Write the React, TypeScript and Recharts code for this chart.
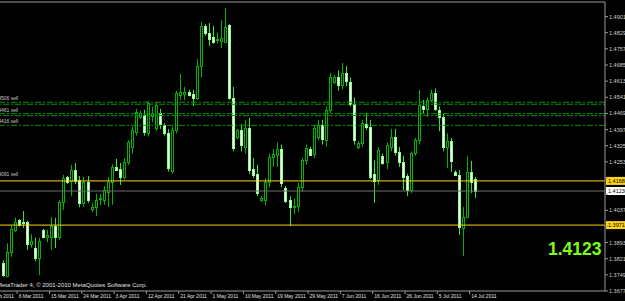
import React from "react";
import { Bar, ComposedChart, ReferenceLine, XAxis, YAxis } from "recharts";

// EURUSD daily, 1 Mar - 15 Jul 2011 (MT4 feed with Sunday bars)
const dates = [
  "1 Mar", "2 Mar", "3 Mar", "4 Mar", "6 Mar", "7 Mar", "8 Mar", "9 Mar", "10 Mar", "11 Mar",
  "13 Mar", "14 Mar", "15 Mar", "16 Mar", "17 Mar", "18 Mar", "20 Mar", "21 Mar", "22 Mar", "23 Mar",
  "24 Mar", "25 Mar", "27 Mar", "28 Mar", "29 Mar", "30 Mar", "31 Mar", "1 Apr", "3 Apr", "4 Apr",
  "5 Apr", "6 Apr", "7 Apr", "8 Apr", "10 Apr", "11 Apr", "12 Apr", "13 Apr", "14 Apr", "15 Apr",
  "17 Apr", "18 Apr", "19 Apr", "20 Apr", "21 Apr", "22 Apr", "24 Apr", "25 Apr", "26 Apr", "27 Apr",
  "28 Apr", "29 Apr", "1 May", "2 May", "3 May", "4 May", "5 May", "6 May", "8 May", "9 May",
  "10 May", "11 May", "12 May", "13 May", "15 May", "16 May", "17 May", "18 May", "19 May", "20 May",
  "22 May", "23 May", "24 May", "25 May", "26 May", "27 May", "29 May", "30 May", "31 May", "1 Jun",
  "2 Jun", "3 Jun", "5 Jun", "6 Jun", "7 Jun", "8 Jun", "9 Jun", "10 Jun", "12 Jun", "13 Jun",
  "14 Jun", "15 Jun", "16 Jun", "17 Jun", "19 Jun", "20 Jun", "21 Jun", "22 Jun", "23 Jun", "24 Jun",
  "26 Jun", "27 Jun", "28 Jun", "29 Jun", "30 Jun", "1 Jul", "3 Jul", "4 Jul", "5 Jul", "6 Jul",
  "7 Jul", "8 Jul", "10 Jul", "11 Jul", "12 Jul", "13 Jul", "14 Jul", "15 Jul",
];

const opens = [
  1.3802, 1.3744, 1.3851, 1.3949, 1.3994, 1.3985, 1.3985, 1.3887, 1.3869, 1.3824,
  1.3949, 1.3918, 1.3918, 1.3967, 1.3918, 1.4074, 1.4186, 1.4168, 1.4217, 1.4172,
  1.4070, 1.4163, 1.4043, 1.4052, 1.4087, 1.4083, 1.4118, 1.4163, 1.4230, 1.4221,
  1.4186, 1.4252, 1.4320, 1.4386, 1.4453, 1.4462, 1.4382, 1.4458, 1.4404, 1.4471,
  1.4417, 1.4382, 1.4212, 1.4395, 1.4551, 1.4556, 1.4565, 1.4556, 1.4538, 1.4681,
  1.4859, 1.4828, 1.4810, 1.4796, 1.4790, 1.4788, 1.4864, 1.4538, 1.4364, 1.4395,
  1.4319, 1.4404, 1.4221, 1.4199, 1.4083, 1.4083, 1.4163, 1.4275, 1.4284, 1.4310,
  1.4136, 1.4083, 1.4052, 1.4056, 1.4141, 1.4261, 1.4310, 1.4288, 1.4364, 1.4417,
  1.4350, 1.4484, 1.4609, 1.4632, 1.4596, 1.4649, 1.4609, 1.4511, 1.4319, 1.4337,
  1.4422, 1.4408, 1.4199, 1.4172, 1.4279, 1.4252, 1.4319, 1.4364, 1.4297, 1.4252,
  1.4190, 1.4127, 1.4293, 1.4350, 1.4502, 1.4489, 1.4529, 1.4560, 1.4484, 1.4453,
  1.4319, 1.4346, 1.4208, 1.4194, 1.3958, 1.4007, 1.4208, 1.4177,
];

const highs = [
  1.3815, 1.3890, 1.3971, 1.4005, 1.3998, 1.4034, 1.3990, 1.3930, 1.3915, 1.3914,
  1.3955, 1.3950, 1.4007, 1.4003, 1.4083, 1.4195, 1.4190, 1.4239, 1.4248, 1.4190,
  1.4186, 1.4190, 1.4070, 1.4110, 1.4110, 1.4145, 1.4186, 1.4243, 1.4266, 1.4248,
  1.4270, 1.4350, 1.4410, 1.4490, 1.4480, 1.4485, 1.4525, 1.4500, 1.4520, 1.4490,
  1.4425, 1.4400, 1.4410, 1.4570, 1.4645, 1.4587, 1.4575, 1.4574, 1.4712, 1.4877,
  1.4868, 1.4872, 1.4859, 1.4830, 1.4886, 1.4939, 1.4868, 1.4587, 1.4400, 1.4420,
  1.4440, 1.4450, 1.4270, 1.4240, 1.4100, 1.4180, 1.4290, 1.4310, 1.4340, 1.4330,
  1.4145, 1.4100, 1.4090, 1.4160, 1.4270, 1.4330, 1.4320, 1.4415, 1.4440, 1.4440,
  1.4500, 1.4650, 1.4640, 1.4660, 1.4694, 1.4680, 1.4630, 1.4540, 1.4345, 1.4440,
  1.4470, 1.4440, 1.4260, 1.4320, 1.4290, 1.4340, 1.4400, 1.4400, 1.4320, 1.4280,
  1.4200, 1.4300, 1.4360, 1.4574, 1.4529, 1.4540, 1.4574, 1.4580, 1.4500, 1.4470,
  1.4380, 1.4360, 1.4215, 1.4217, 1.4052, 1.4279, 1.4257, 1.4186,
];

const lows = [
  1.3740, 1.3738, 1.3829, 1.3940, 1.3965, 1.3958, 1.3860, 1.3870, 1.3810, 1.3748,
  1.3912, 1.3895, 1.3860, 1.3869, 1.3905, 1.4038, 1.4155, 1.4101, 1.4154, 1.4050,
  1.4052, 1.4070, 1.4030, 1.4011, 1.4060, 1.4061, 1.4052, 1.4061, 1.4212, 1.4150,
  1.4176, 1.4240, 1.4290, 1.4370, 1.4445, 1.4370, 1.4365, 1.4430, 1.4390, 1.4400,
  1.4370, 1.4210, 1.4200, 1.4380, 1.4529, 1.4529, 1.4545, 1.4502, 1.4529, 1.4630,
  1.4815, 1.4770, 1.4780, 1.4780, 1.4760, 1.4785, 1.4530, 1.4300, 1.4355, 1.4300,
  1.4290, 1.4200, 1.4180, 1.4100, 1.4075, 1.4060, 1.4140, 1.4230, 1.4230, 1.4140,
  1.4070, 1.3967, 1.4020, 1.4030, 1.4120, 1.4240, 1.4280, 1.4270, 1.4350, 1.4330,
  1.4320, 1.4470, 1.4600, 1.4570, 1.4575, 1.4590, 1.4500, 1.4330, 1.4310, 1.4320,
  1.4395, 1.4175, 1.4070, 1.4150, 1.4240, 1.4220, 1.4300, 1.4280, 1.4230, 1.4127,
  1.4100, 1.4114, 1.4280, 1.4330, 1.4470, 1.4453, 1.4520, 1.4480, 1.4390, 1.4300,
  1.4226, 1.4208, 1.4190, 1.3927, 1.3833, 1.4003, 1.4114, 1.4092,
];

const closes = [
  1.3748, 1.3851, 1.3954, 1.3985, 1.3971, 1.3980, 1.3887, 1.3900, 1.3824, 1.3900,
  1.3918, 1.3927, 1.3967, 1.3918, 1.4074, 1.4181, 1.4163, 1.4217, 1.4168, 1.4070,
  1.4163, 1.4083, 1.4052, 1.4083, 1.4092, 1.4127, 1.4163, 1.4230, 1.4217, 1.4186,
  1.4252, 1.4342, 1.4395, 1.4475, 1.4471, 1.4386, 1.4516, 1.4471, 1.4507, 1.4422,
  1.4382, 1.4226, 1.4395, 1.4560, 1.4565, 1.4565, 1.4552, 1.4539, 1.4681, 1.4859,
  1.4828, 1.4801, 1.4788, 1.4799, 1.4805, 1.4855, 1.4538, 1.4315, 1.4395, 1.4328,
  1.4404, 1.4217, 1.4194, 1.4114, 1.4092, 1.4163, 1.4275, 1.4288, 1.4310, 1.4159,
  1.4078, 1.4052, 1.4056, 1.4141, 1.4261, 1.4315, 1.4284, 1.4404, 1.4417, 1.4355,
  1.4484, 1.4632, 1.4632, 1.4596, 1.4649, 1.4614, 1.4511, 1.4350, 1.4337, 1.4426,
  1.4408, 1.4186, 1.4168, 1.4306, 1.4248, 1.4328, 1.4364, 1.4297, 1.4252, 1.4186,
  1.4127, 1.4293, 1.4350, 1.4507, 1.4489, 1.4529, 1.4560, 1.4489, 1.4453, 1.4319,
  1.4346, 1.4257, 1.4194, 1.3962, 1.4007, 1.4208, 1.4163, 1.4123,
];

const priceTicks = [
  1.3677, 1.3749, 1.3821, 1.3893, 1.3965, 1.4037, 1.4109, 1.4181, 1.4253,
  1.4325, 1.4397, 1.4469, 1.4541, 1.4613, 1.4685, 1.4757, 1.4829, 1.4901,
];
// labels that sit under the price tags on the axis
const coveredTicks = [1.3965, 1.4109, 1.4181];

const timeTickIndex = [4, 12, 20, 28, 36, 44, 52, 60, 68, 76, 84, 92, 100, 108, 116];
const timeTickLabels = [
  "6 Mar 2011", "15 Mar 2011", "24 Mar 2011", "3 Apr 2011", "12 Apr 2011",
  "21 Apr 2011", "1 May 2011", "10 May 2011", "19 May 2011", "29 May 2011", "7 Jun 2011",
  "16 Jun 2011", "26 Jun 2011", "5 Jul 2011", "14 Jul 2011",
];
const firstCutLabel = "24 Feb 2011";

const sellLevels = [1.4519, 1.4510, 1.4468, 1.4459, 1.4416];
const sellLabels = ["1.4506 sell", "", "1.4461 sell", "", "1.4416 sell"];

const BID = 1.4123;
const goldLevels = [1.4168, 1.3971];
const goldLabels = ["1.41680", "1.39710"];

const data = dates.map((d, i) => ({
  i,
  date: d,
  open: opens[i],
  high: highs[i],
  low: lows[i],
  close: closes[i],
}));

const FONT = "'Liberation Sans', Arial, sans-serif";
const WICK = "#00b400";
const X_DOMAIN = [-0.545, 149.2];
const BAR_PX = 605 / (X_DOMAIN[1] - X_DOMAIN[0]);
const TICK_SHIFT = 0.3; // MT4 puts the time tick a hair left of the bar

function Candle(props: any) {
  const { x, y, width, height, payload } = props;
  if (!payload || height == null) return null;
  const { open, close, high, low } = payload;
  const cx = Math.round(x + width / 2) + 0.5;
  const ppu = height / (high - low);
  const py = (p: number) => y + (high - p) * ppu;
  const top = Math.round(py(Math.max(open, close))) + 0.5;
  const bot = Math.round(py(Math.min(open, close))) + 0.5;
  const bear = close < open;
  return (
    <g>
      <line x1={cx} x2={cx} y1={y} y2={y + height} stroke={bear ? "#33e633" : WICK} strokeWidth={1} />
      <rect
        x={cx - 1}
        y={top}
        width={2}
        height={Math.max(bot - top, 1)}
        fill={bear ? "#ffffff" : "#000000"}
        stroke={bear ? "#8cff8c" : WICK}
        strokeWidth={1}
      />
    </g>
  );
}

function PriceTick(props: any) {
  const { x, y, payload } = props;
  if (coveredTicks.includes(payload.value)) return null;
  return (
    <text x={x} y={y + 2} fill="#d0d0d0" fontSize={5.5} fontFamily={FONT}>
      {payload.value.toFixed(5)}
    </text>
  );
}

function TimeTick(props: any) {
  const { x, y, payload } = props;
  const k = timeTickIndex.indexOf(Math.round(payload.value + TICK_SHIFT));
  return (
    <g>
      {k === 0 && (
        <text x={x - 8 * BAR_PX + 1.5} y={y + 4} fill="#e0e0e0" fontSize={5} fontFamily={FONT}>
          {firstCutLabel}
        </text>
      )}
      <text x={x + 1.5} y={y + 4} fill="#e0e0e0" fontSize={5} fontFamily={FONT}>
        {timeTickLabels[k]}
      </text>
    </g>
  );
}

function AxisTag(props: any) {
  const { viewBox, text, bg } = props;
  if (!viewBox) return null;
  const x = viewBox.x + viewBox.width + 1;
  const y = viewBox.y;
  return (
    <g>
      <rect x={x} y={y - 4} width={20} height={8} fill={bg} />
      <text x={x + 2} y={y + 2.2} fill="#000" fontSize={5.5} fontFamily={FONT}>
        {text}
      </text>
    </g>
  );
}

function LevelText(props: any) {
  const { viewBox, text } = props;
  if (!viewBox || !text) return null;
  return (
    <text x={viewBox.x - 6} y={viewBox.y - 2} fill="#c8c8c8" fontSize={5} fontFamily={FONT}>
      {text}
    </text>
  );
}

export default function App() {
  return (
    <div
      style={{
        position: "fixed",
        left: 0,
        top: 0,
        width: 625,
        height: 301,
        background: "#000",
        overflow: "hidden",
      }}
    >
      <ComposedChart
        width={625}
        height={301}
        data={data}
        margin={{ top: 2, right: 0, bottom: 0, left: 0 }}
      >
        <XAxis
          dataKey="i"
          type="number"
          domain={X_DOMAIN}
          allowDataOverflow
          ticks={timeTickIndex.map((v) => v - TICK_SHIFT)}
          interval={0}
          height={10}
          axisLine={{ stroke: "#9a9a9a" }}
          tickLine={{ stroke: "#9a9a9a" }}
          tickSize={3}
          tickMargin={0}
          tick={<TimeTick />}
        />
        <YAxis
          orientation="right"
          type="number"
          domain={[1.3677, 1.4966]}
          allowDataOverflow
          ticks={priceTicks}
          interval={0}
          width={20}
          axisLine={{ stroke: "#9a9a9a" }}
          tickLine={{ stroke: "#9a9a9a" }}
          tickSize={3}
          tickMargin={1}
          tick={<PriceTick />}
        />
        <ReferenceLine y={1.4966} stroke="#9a9a9a" />
        {sellLevels.map((v, k) => (
          <ReferenceLine
            key={"s" + k}
            y={v}
            stroke="#009a00"
            strokeDasharray="6 2 2 2"
            strokeDashoffset={k % 2 ? 4 : 0}
            label={<LevelText text={sellLabels[k]} />}
          />
        ))}
        <ReferenceLine y={BID} stroke="#707070" label={<AxisTag text="1.41230" bg="#ffffff" />} />
        {goldLevels.map((v, k) => (
          <ReferenceLine
            key={"g" + k}
            y={v}
            stroke="#ffd21a"
            label={<AxisTag text={goldLabels[k]} bg="#ffd21a" />}
          />
        ))}
        <ReferenceLine y={1.4181} stroke="none" label={<LevelText text="1.4091 sell" />} />
        <Bar
          dataKey={(d: any) => [d.low, d.high]}
          barSize={3}
          shape={<Candle />}
          isAnimationActive={false}
        />
      </ComposedChart>
      <div
        style={{
          position: "absolute",
          left: 548,
          top: 239,
          color: "#7cff14",
          fontFamily: FONT,
          fontWeight: "bold",
          fontSize: 17.5,
          lineHeight: "20px",
        }}
      >
        1.4123
      </div>
      <div
        style={{
          position: "absolute",
          left: -3,
          top: 282,
          color: "#e0e0e0",
          fontFamily: FONT,
          fontSize: 6,
          lineHeight: "7px",
          whiteSpace: "nowrap",
        }}
      >
        MetaTrader 4, © 2001-2010 MetaQuotes Software Corp.
      </div>
    </div>
  );
}
